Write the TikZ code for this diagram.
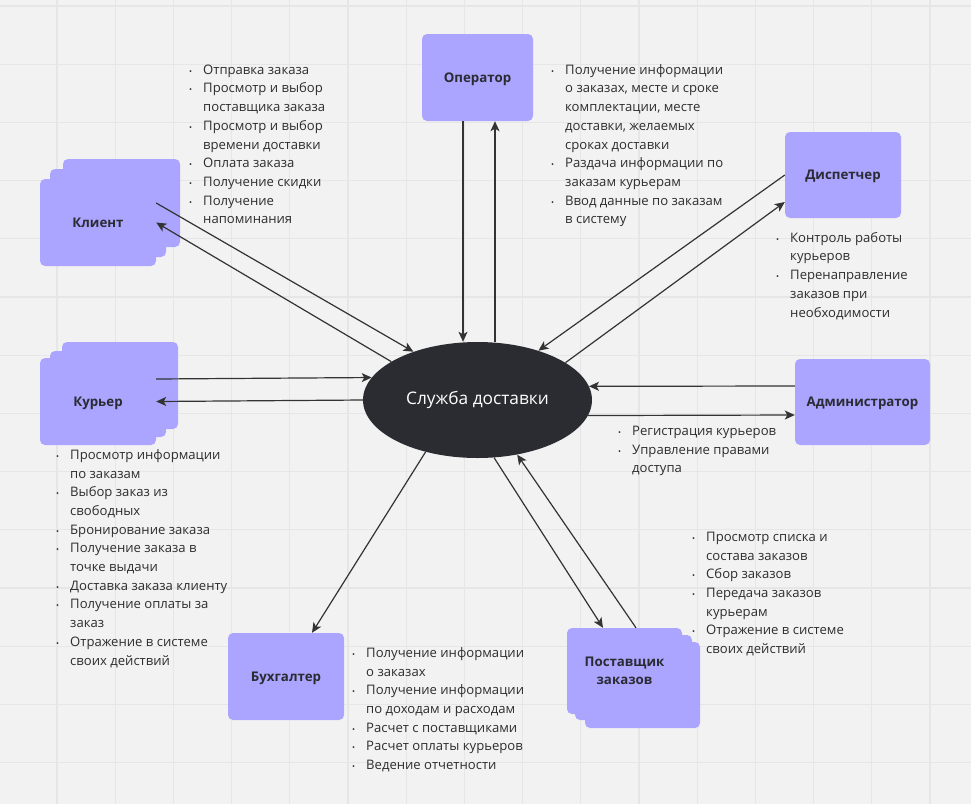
\documentclass[tikz,border=0pt]{standalone}
\usepackage{fontspec}
\setmainfont{Open Sans}
\usetikzlibrary{arrows.meta,shapes.geometric,calc}
\definecolor{bg}{HTML}{F2F2F2}
\definecolor{gridc}{HTML}{E6E6E6}
\definecolor{boxc}{HTML}{ABA5FF}
\definecolor{ellc}{HTML}{2B2C32}
\definecolor{txt}{HTML}{2D2D2D}
\definecolor{lab}{HTML}{2B2B33}
\definecolor{arrc}{HTML}{333333}
\newcommand{\bu}{\makebox[14pt][l]{\fontsize{8}{8}\selectfont\textbullet}}
\newcommand{\cu}{\hspace*{14pt}}
\begin{document}
\begin{tikzpicture}[x=1pt,y=-1pt,
  actor/.style={fill=boxc, rounded corners=5pt, inner sep=0pt, font=\fontsize{13.3}{18}\selectfont\bfseries, text=lab, align=center, text depth=0pt},
  list/.style={anchor=north west, inner sep=0pt, align=left, text=txt, font=\fontsize{13.1}{18.7}\selectfont},
  arr/.style={draw=arrc, line width=1.2pt, -{Stealth[length=10pt,width=9pt,inset=2.5pt]}}
]
\useasboundingbox (0,0) rectangle (971,804);
\fill[bg] (0,0) rectangle (971,804);
\foreach \i in {0,...,15} \draw[gridc, line width=1.2pt] ({57+58.2*\i},0) -- ({57+58.2*\i},804);
\foreach \i in {0,...,13} \draw[gridc, line width=1.2pt] (0,{6+58.2*\i}) -- (971,{6+58.2*\i});

% central
\node[ellipse, fill=ellc, minimum width=229pt, minimum height=116pt, inner sep=0pt, text=white, font=\fontsize{17.3}{20}\selectfont] (ell) at (477.5,400) {Служба доставки};

% actors
\node[actor, minimum width=111pt, minimum height=87pt] (op) at (477.5,77.5) {Оператор};
\node[actor, minimum width=116pt, minimum height=86pt] (di) at (843,175) {Диспетчер};
\node[actor, minimum width=135pt, minimum height=86pt] (ad) at (862.5,402) {Администратор};
\node[actor, minimum width=116pt, minimum height=87pt] (bu) at (286,676.5) {Бухгалтер};

\node[actor, minimum width=117pt, minimum height=88pt] (kl3) at (121.5,203) {};
\node[actor, minimum width=116pt, minimum height=88pt] (kl2) at (108,213) {};
\node[actor, minimum width=116pt, minimum height=87pt] (kl) at (98,222.5) {Клиент};

\node[actor, minimum width=116pt, minimum height=87pt] (ku3) at (120,385.5) {};
\node[actor, minimum width=116pt, minimum height=86pt] (ku2) at (108,394) {};
\node[actor, minimum width=116pt, minimum height=87pt] (ku) at (98,401.5) {Курьер};

\node[actor, minimum width=115pt, minimum height=86pt] (po3) at (642.5,685) {};
\node[actor, minimum width=117pt, minimum height=85pt] (po2) at (633.5,677.5) {};
\node[actor, minimum width=115pt, minimum height=86pt] (po) at (624.5,671) {Поставщик\\заказов};

% connectors
\draw[arr] ([yshift=19.5pt]kl.east) -- (ell.143.3);
\draw[arr] (ell.156.5) -- (kl.east);
\draw[arr] ([xshift=-14.5pt]op.south) -- ([xshift=-14.5pt]op.south |- ell.north);
\draw[arr] ([xshift=17.5pt]op.south |- ell.north) -- ([xshift=17.5pt]op.south);
\draw[arr] (di.west) -- (ell.39);
\draw[arr] (ell.23.5) -- ([yshift=-27pt]di.west);
\draw[arr] ([yshift=22.5pt]ku.east) -- (ell.168.2);
\draw[arr] (ell.west) -- (ku.east);
\draw[arr] ([yshift=16pt]ad.west) -- (ell.7);
\draw[arr] (ell.-8) -- ([yshift=-13pt]ad.west);
\draw[arr] (ell.225.3) -- ([xshift=26pt]bu.north);
\draw[arr] (ell.286.8) -- ([xshift=-21.5pt]po.north);
\draw[arr] ([xshift=11.5pt]po.north) -- (ell.306.4);

% lists
\node[list] (lkl) at (189,61) {\strut\bu Отправка заказа\\
\bu Просмотр и выбор\\
\cu поставщика заказа\\
\bu Просмотр и выбор\\
\cu времени доставки\\
\bu Оплата заказа\\
\bu Получение скидки\\
\bu Получение\\
\cu напоминания};

\node[list] (lop) at (551,61) {\strut\bu Получение информации\\
\cu о заказах, месте и сроке\\
\cu комплектации, месте\\
\cu доставки, желаемых\\
\cu сроках доставки\\
\bu Раздача информации по\\
\cu заказам курьерам\\
\bu Ввод данные по заказам\\
\cu в систему};

\node[list] (ldi) at (776,229) {\strut\bu Контроль работы\\
\cu курьеров\\
\bu Перенаправление\\
\cu заказов при\\
\cu необходимости};

\node[list] (lku) at (56,446) {\strut\bu Просмотр информации\\
\cu по заказам\\
\bu Выбор заказ из\\
\cu свободных\\
\bu Бронирование заказа\\
\bu Получение заказа в\\
\cu точке выдачи\\
\bu Доставка заказа клиенту\\
\bu Получение оплаты за\\
\cu заказ\\
\bu Отражение в системе\\
\cu своих действий};

\node[list] (lad) at (618,422) {\strut\bu Регистрация курьеров\\
\bu Управление правами\\
\cu доступа};

\node[list] (lpo) at (692,528) {\strut\bu Просмотр списка и\\
\cu состава заказов\\
\bu Сбор заказов\\
\bu Передача заказов\\
\cu курьерам\\
\bu Отражение в системе\\
\cu своих действий};

\node[list] (lbu) at (352,644) {\strut\bu Получение информации\\
\cu о заказах\\
\bu Получение информации\\
\cu по доходам и расходам\\
\bu Расчет с поставщиками\\
\bu Расчет оплаты курьеров\\
\bu Ведение отчетности};
\end{tikzpicture}
\end{document}
